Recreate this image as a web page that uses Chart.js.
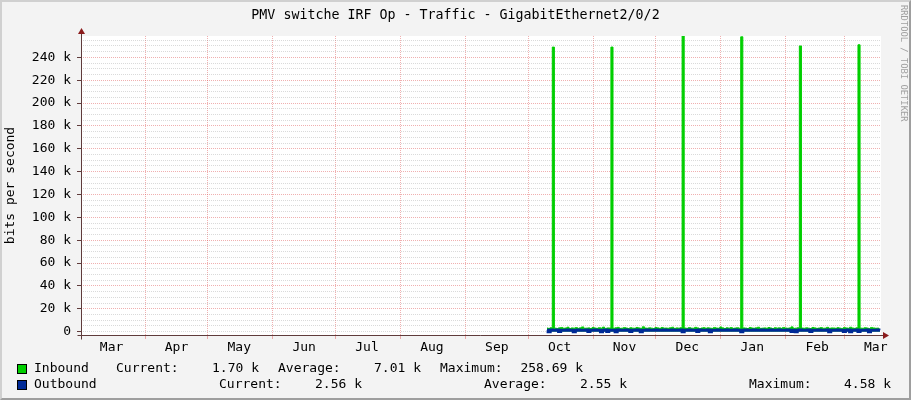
<!DOCTYPE html>
<html>
<head>
<meta charset="utf-8">
<title>PMV switche IRF Op - Traffic - GigabitEthernet2/0/2</title>
<script src="https://cdn.jsdelivr.net/npm/chart.js@4.4.1/dist/chart.umd.min.js"></script>
<style>
  html, body { margin: 0; padding: 0; background: #f3f3f3; }
  #frame { position: relative; width: 911px; height: 400px; overflow: hidden; background: #f3f3f3;
    font-family: 'DejaVu Sans Mono', monospace; color: #000; }
  #c { position: absolute; left: 0; top: 0; }
  #shade { position: absolute; left: 0; top: 0; width: 911px; height: 400px; box-sizing: border-box;
    border-top: 2px solid #d0d0d0; border-left: 2px solid #d0d0d0;
    border-right: 2px solid #9e9e9e; border-bottom: 2px solid #9e9e9e; pointer-events: none; }
  .title { position: absolute; left: 0; top: 7px; width: 911px; text-align: center;
    font-size: 13.3px; line-height: 16px; white-space: pre; }
  .mark { position: absolute; left: 899px; top: 5px; writing-mode: vertical-rl;
    font-size: 8.8px; line-height: 9px; color: #a0a0a0; white-space: pre; }
  .lg { position: absolute; font-size: 13px; line-height: 15px; white-space: pre; }
  .r { text-align: right; }
  .sw { position: absolute; left: 17px; width: 8px; height: 8px; border: 1px solid #000; }
</style>
</head>
<body>
<div id="frame">
  <canvas id="c" width="911" height="400"></canvas>
  <div class="title">PMV switche IRF Op - Traffic - GigabitEthernet2/0/2</div>
  <div class="mark">RRDTOOL / TOBI OETIKER</div>

  <div class="sw" style="top:364px;background:#00cf00"></div>
  <div class="lg" style="left:34px;top:360px">Inbound</div>
  <div class="lg" style="left:116px;top:360px">Current:</div>
  <div class="lg r" style="right:652px;top:360px">1.70 k</div>
  <div class="lg" style="left:278px;top:360px">Average:</div>
  <div class="lg r" style="right:490px;top:360px">7.01 k</div>
  <div class="lg" style="left:440px;top:360px">Maximum:</div>
  <div class="lg r" style="right:328px;top:360px">258.69 k</div>

  <div class="sw" style="top:380px;background:#002a97"></div>
  <div class="lg" style="left:34px;top:376px">Outbound</div>
  <div class="lg" style="left:219px;top:376px">Current:</div>
  <div class="lg r" style="right:549px;top:376px">2.56 k</div>
  <div class="lg" style="left:484px;top:376px">Average:</div>
  <div class="lg r" style="right:284px;top:376px">2.55 k</div>
  <div class="lg" style="left:749px;top:376px">Maximum:</div>
  <div class="lg r" style="right:20px;top:376px">4.58 k</div>

  <div id="shade"></div>
</div>
<script>
// days counted from 1 March of the first year
const monthStarts = [31, 61, 92, 122, 153, 184, 214, 245, 275, 306, 337, 365];
const monthNames = ['Mar', 'Apr', 'May', 'Jun', 'Jul', 'Aug', 'Sep', 'Oct', 'Nov', 'Dec', 'Jan', 'Feb', 'Mar'];
const labelDays = [15, 46, 76, 107, 137, 168, 199, 229, 260, 290, 321, 352, 380];
const yLabels = [0, 20000, 40000, 60000, 80000, 100000, 120000, 140000, 160000, 180000, 200000, 220000, 240000];

// one sample per day, starting on day 223 (early October)
const firstDay = 223;
const inboundK = [
  3.1, 2.8, 3.4, 249, 3.0, 2.7, 3.3, 3.6, 2.9, 3.1, 3.8, 2.6, 3.2, 3.0, 3.5, 2.8, 3.3, 4.1, 2.9, 3.0,
  3.2, 2.7, 3.6, 3.1, 2.8, 3.4, 3.0, 3.9, 2.6, 3.2, 3.1, 249, 2.9, 3.3, 3.7, 2.8, 3.0, 3.5, 3.1, 2.7,
  3.4, 3.0, 2.9, 3.6, 3.2, 2.8, 4.2, 3.1, 2.9, 3.3, 3.0, 2.7, 3.5, 3.2, 2.8, 3.6, 3.0, 3.1, 2.9, 3.4,
  3.8, 2.7, 3.2, 3.0, 3.3, 258.69, 3.1, 2.8, 3.5, 3.0, 2.9, 3.7, 3.2, 2.6, 3.1, 3.4, 2.9, 3.3, 3.0, 2.8,
  3.6, 3.1, 2.9, 4.0, 3.2, 2.7, 3.3, 3.0, 3.5, 2.8, 3.1, 3.4, 2.9, 258, 3.2, 3.0, 2.7, 3.6, 3.1, 2.9,
  3.3, 3.8, 2.8, 3.0, 3.2, 2.9, 3.5, 3.1, 2.7, 3.4, 3.0, 3.3, 2.8, 3.6, 3.1, 2.9, 3.2, 4.1, 2.8, 3.0,
  3.4, 250, 3.1, 2.9, 3.3, 3.0, 2.7, 3.6, 3.2, 2.8, 3.1, 3.5, 2.9, 3.0, 3.7, 2.8, 3.2, 3.1, 2.9, 3.4,
  3.0, 2.7, 3.5, 3.2, 2.9, 3.8, 3.1, 2.8, 3.3, 251, 3.0, 2.9, 3.4, 3.1, 2.7, 3.6, 3.2, 2.9, 3.0, 1.7
];
const outboundK = [
  1.2, -0.2, 1.3, 1.1, 1.2, 1.3, 0.0, 1.2, 1.1, 1.2, 1.3, 1.2, 1.1, -0.2, 1.2, 1.3, 1.2, 1.1, 1.2, 1.3,
  0.0, 1.2, 1.1, 1.3, 1.2, 1.2, -0.2, 1.1, 1.3, 0.0, 1.2, 1.1, 1.2, -0.2, 1.3, 1.2, 1.1, 1.2, 1.3, 1.2,
  0.0, 1.1, 1.2, 1.3, 1.2, -0.2, 1.1, 1.2, 1.3, 1.2, 1.1, 1.2, 1.3, 1.2, 1.1, 1.2, 1.3, 1.2, 1.1, 1.2,
  1.3, 1.2, 1.1, 1.2, 1.3, -0.2, 1.2, 1.1, 1.3, 1.2, 1.2, 1.1, 0.0, 1.3, 1.2, 1.1, 1.2, 1.3, -0.2, 1.2,
  1.1, 1.2, 1.3, 1.2, 1.1, 1.2, 1.3, 1.2, 1.1, 1.2, 1.3, 1.2, 1.1, -0.2, 1.2, 1.3, 1.2, 1.1, 1.2, 1.3,
  1.2, 1.1, 1.2, 1.3, 1.2, 1.1, 1.2, 1.3, 1.2, 1.1, 1.2, 1.3, 1.2, 1.1, 1.2, 1.3, 1.2, 0.0, 1.1, -0.2,
  1.2, 1.3, 1.2, 1.1, 1.2, 1.3, 0.0, 1.2, 1.1, 1.2, 1.3, 1.2, 1.1, 1.2, 1.3, -0.2, 1.2, 1.1, 1.2, 1.3,
  1.2, 1.1, 0.0, 1.2, 1.3, -0.2, 1.1, 1.2, 1.3, 0.0, 1.2, 1.1, 1.2, 1.3, -0.2, 1.2, 1.1, 1.2, 1.3, 1.2
];

const toPoints = (arr) => arr.map((v, i) => ({ x: firstDay + i, y: v * 1000 }));

const AXIS = '#5f3b3b';
const ARROW = '#8b1c1c';
const MGRID = 'rgba(222, 80, 80, 0.45)';
const GRID = 'rgba(140, 140, 140, 0.32)';

const canvasBg = {
  id: 'canvasBg',
  beforeDraw(chart) {
    const { ctx, chartArea: a } = chart;
    ctx.save();
    ctx.fillStyle = '#ffffff';
    ctx.fillRect(a.left, a.top, a.right - a.left, a.bottom - a.top);
    ctx.restore();
  }
};

const axisArrows = {
  id: 'axisArrows',
  afterDatasetsDraw(chart) {
    const { ctx, chartArea: a } = chart;
    const x0 = Math.round(a.left) + 0.5;
    const y0 = Math.round(a.bottom) + 0.5;
    ctx.save();
    ctx.strokeStyle = AXIS;
    ctx.lineWidth = 1;
    ctx.beginPath();
    ctx.moveTo(x0, y0 + 4);
    ctx.lineTo(x0, a.top - 3);
    ctx.moveTo(x0 - 4, y0);
    ctx.lineTo(a.right + 3, y0);
    ctx.stroke();
    ctx.fillStyle = ARROW;
    ctx.beginPath();
    ctx.moveTo(x0, a.top - 8);
    ctx.lineTo(x0 - 3.5, a.top - 2);
    ctx.lineTo(x0 + 3.5, a.top - 2);
    ctx.closePath();
    ctx.fill();
    ctx.beginPath();
    ctx.moveTo(a.right + 8, y0);
    ctx.lineTo(a.right + 2, y0 - 3.5);
    ctx.lineTo(a.right + 2, y0 + 3.5);
    ctx.closePath();
    ctx.fill();
    ctx.restore();
  }
};

Chart.defaults.font.family = "'DejaVu Sans Mono', monospace";
Chart.defaults.font.size = 13;
Chart.defaults.color = '#000';

new Chart(document.getElementById('c'), {
  type: 'line',
  data: {
    datasets: [
      {
        label: 'Inbound',
        data: toPoints(inboundK),
        borderColor: '#00cf00',
        backgroundColor: '#00cf00',
        borderWidth: 1,
        fill: 'origin',
        stepped: 'middle',
        pointRadius: 0,
        order: 1
      },
      {
        label: 'Outbound',
        data: toPoints(outboundK),
        borderColor: '#002a97',
        borderWidth: 3,
        fill: false,
        stepped: 'middle',
        pointRadius: 0,
        order: 0
      }
    ]
  },
  options: {
    responsive: false,
    animation: false,
    devicePixelRatio: 1,
    layout: { padding: { left: 0, top: 36, right: 30, bottom: 45 } },
    plugins: { legend: { display: false }, tooltip: { enabled: false } },
    scales: {
      x: {
        type: 'linear',
        bounds: 'data',
        min: 0.4,
        max: 382.5,
        afterBuildTicks: (scale) => {
          const vals = monthStarts.concat(labelDays).filter(v => v >= scale.min && v <= scale.max);
          vals.sort((a, b) => a - b);
          scale.ticks = vals.map(v => ({ value: v }));
        },
        afterFit: (scale) => { scale.height = 20; },
        ticks: {
          autoSkip: false,
          maxRotation: 0,
          padding: 1,
          callback: (v) => {
            const i = labelDays.indexOf(v);
            return i >= 0 ? monthNames[i] : '';
          }
        },
        grid: {
          color: (ctx) => monthStarts.includes(ctx.tick && ctx.tick.value) ? MGRID : 'rgba(0,0,0,0)',
          tickColor: (ctx) => monthStarts.includes(ctx.tick && ctx.tick.value) ? MGRID : 'rgba(0,0,0,0)',
          tickLength: 4,
          lineWidth: 1
        },
        border: { display: false, dash: [1, 1] }
      },
      y: {
        type: 'linear',
        bounds: 'data',
        min: -3000,
        max: 258690,
        afterBuildTicks: (scale) => {
          const vals = [];
          for (let v = 0; v <= scale.max; v += 5000) vals.push(v);
          scale.ticks = vals.map(v => ({ value: v }));
        },
        afterFit: (scale) => { scale.width = 81; },
        ticks: {
          autoSkip: false,
          padding: 6,
          callback: (v) => yLabels.includes(v) ? (v === 0 ? '0' : (v / 1000) + ' k') : ''
        },
        grid: {
          color: (ctx) => {
            const v = ctx.tick && ctx.tick.value;
            return (v > 0 && yLabels.includes(v)) ? MGRID : GRID;
          },
          tickColor: (ctx) => yLabels.includes(ctx.tick && ctx.tick.value) ? AXIS : 'rgba(0,0,0,0)',
          tickLength: 4,
          lineWidth: 1
        },
        border: { display: false, dash: [1, 1] },
        title: {
          display: true,
          text: 'bits per second',
          font: { size: 13 },
          padding: { top: 3, bottom: 0 }
        }
      }
    }
  },
  plugins: [canvasBg, axisArrows]
});
</script>
</body>
</html>
